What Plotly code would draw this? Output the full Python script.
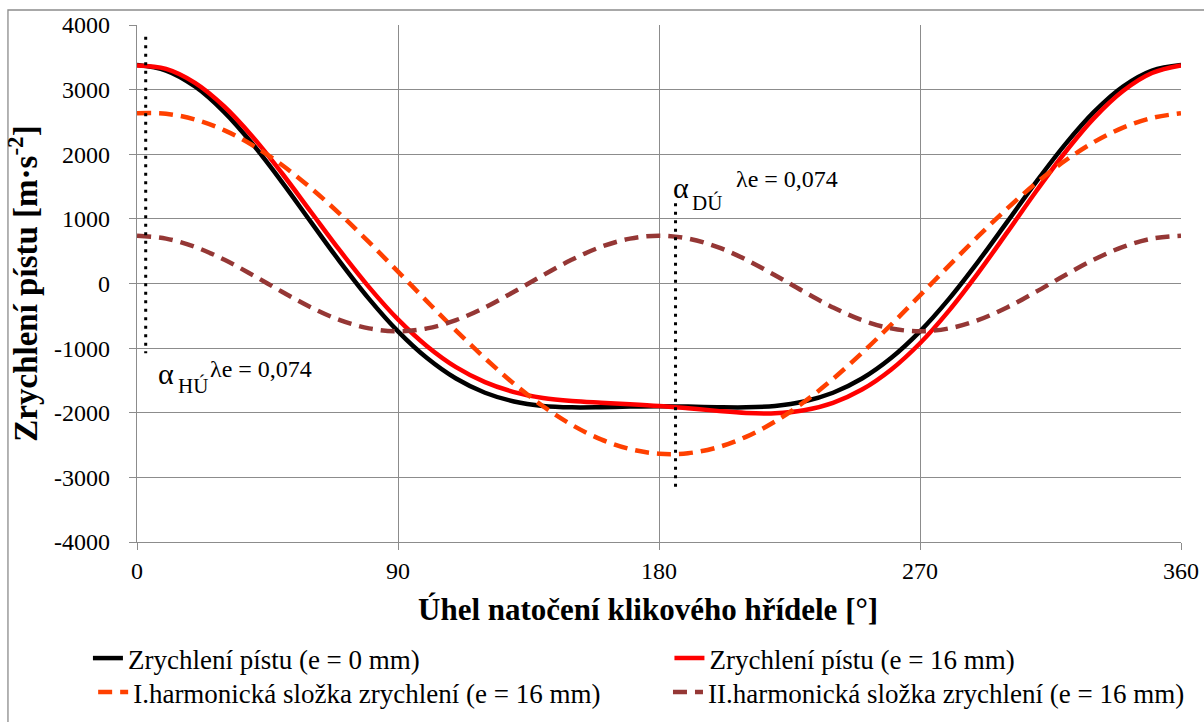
import plotly.graph_objects as go

# ---- data ----
angle_deg = [0, 10, 20, 30, 40, 50, 60, 70, 80, 90, 100, 110, 120, 130, 140, 150, 160, 170, 180,
             190, 200, 210, 220, 230, 240, 250, 260, 270, 280, 290, 300, 310, 320, 330, 340, 350, 360]

acc_e0 = [3380, 3295, 3048, 2656, 2150, 1569, 950, 336, -237, -740, -1153, -1470, -1690, -1825,
          -1894, -1916, -1914, -1905, -1900, -1905, -1914, -1916, -1894, -1825, -1690, -1470,
          -1153, -740, -237, 336, 950, 1569, 2150, 2656, 3048, 3295, 3380]

acc_e16 = [3374, 3321, 3105, 2743, 2264, 1706, 1106, 507, -56, -556, -971, -1295, -1527, -1680,
           -1771, -1819, -1845, -1867, -1894, -1931, -1971, -2003, -2008, -1962, -1846, -1641,
           -1334, -924, -419, 161, 787, 1424, 2027, 2559, 2979, 3257, 3374]

harm1_e16 = [2634, 2626, 2538, 2373, 2136, 1834, 1476, 1074, 639, 184, -276, -728, -1157, -1552,
             -1899, -2189, -2412, -2562, -2634, -2626, -2538, -2373, -2136, -1834, -1476, -1074,
             -639, -184, 276, 728, 1157, 1552, 1899, 2189, 2412, 2562, 2634]

harm2_e16 = [740, 695, 567, 370, 128, -128, -370, -567, -695, -740, -695, -567, -370, -128, 128,
             370, 567, 695, 740, 695, 567, 370, 128, -128, -370, -567, -695, -740, -695, -567,
             -370, -128, 128, 370, 567, 695, 740]

series_names = ["Zrychlení pístu (e = 0 mm)",
                "Zrychlení pístu (e = 16 mm)",
                "I.harmonická složka zrychlení (e = 16 mm)",
                "II.harmonická složka zrychlení (e = 16 mm)"]

# dead-centre marker lines
hu_x = [3.0, 3.0]
hu_y = [3820, -1080]
du_x = [185.7, 185.7]
du_y = [1240, -3150]

x_ticks = [0, 90, 180, 270, 360]
x_ticktext = ["0", "90", "180", "270", "360"]
y_ticks = [-4000, -3000, -2000, -1000, 0, 1000, 2000, 3000, 4000]
y_ticktext = ["-4000", "-3000", "-2000", "-1000", "0", "1000", "2000", "3000", "4000"]

x_title = "Úhel natočení klikového hřídele [°]"
y_title = "Zrychlení pístu [m·s<sup>-2</sup>]"

# ---- figure ----
FONT = "Liberation Serif, Times New Roman, serif"
GRID = "#8c8c8c"

fig = go.Figure()
fig.add_trace(go.Scatter(x=angle_deg, y=acc_e0, mode="lines", name=series_names[0],
                         line=dict(color="#000000", width=4.5, shape="spline"), legend="legend"))
fig.add_trace(go.Scatter(x=angle_deg, y=acc_e16, mode="lines", name=series_names[1],
                         line=dict(color="#ff0000", width=4.5, shape="spline"), legend="legend2"))
fig.add_trace(go.Scatter(x=angle_deg, y=harm1_e16, mode="lines", name=series_names[2],
                         line=dict(color="#ff4000", width=4.5, shape="spline", dash="14px,8px"),
                         legend="legend3"))
fig.add_trace(go.Scatter(x=angle_deg, y=harm2_e16, mode="lines", name=series_names[3],
                         line=dict(color="#953735", width=4.5, shape="spline", dash="14px,8px"),
                         legend="legend4"))
fig.add_trace(go.Scatter(x=hu_x, y=hu_y, mode="lines", showlegend=False, hoverinfo="skip",
                         line=dict(color="#000000", width=3, dash="3px,5.5px")))
fig.add_trace(go.Scatter(x=du_x, y=du_y, mode="lines", showlegend=False, hoverinfo="skip",
                         line=dict(color="#000000", width=3, dash="3px,5.5px")))

axis_common = dict(showgrid=True, gridcolor=GRID, gridwidth=1.3, showline=True, linecolor=GRID,
                   linewidth=1.3, ticks="outside", ticklen=7, tickcolor=GRID, tickwidth=1.3,
                   zeroline=False, automargin=False,
                   tickfont=dict(family=FONT, size=24, color="black"))

fig.update_xaxes(range=[0, 360], tickmode="array", tickvals=x_ticks, ticktext=x_ticktext,
                 ticklabelstandoff=0, **axis_common)
fig.update_yaxes(range=[-4000, 4000], tickmode="array", tickvals=y_ticks, ticktext=y_ticktext,
                 ticklabelstandoff=14,
                 title=dict(text="<b>" + y_title + "</b>", standoff=6,
                            font=dict(family=FONT, size=33, color="black")),
                 **axis_common)

legend_common = dict(orientation="v", xanchor="left", yanchor="top", bgcolor="rgba(0,0,0,0)",
                     font=dict(family=FONT, size=27, color="black"), tracegroupgap=0,
                     itemwidth=30)
fig.update_layout(
    width=1204, height=722,
    margin=dict(l=137, r=23, t=25, b=180, autoexpand=False),
    plot_bgcolor="white", paper_bgcolor="white",
    font=dict(family=FONT, color="black"),
    showlegend=True,
    legend=dict(x=-0.047, y=-0.178, **legend_common),
    legend2=dict(x=0.510, y=-0.178, **legend_common),
    legend3=dict(x=-0.042, y=-0.2437, **legend_common),
    legend4=dict(x=0.5086, y=-0.2437, **legend_common),
)

# x-axis title
fig.add_annotation(x=(648 - 137) / 1044, y=-0.1315, xref="paper", yref="paper",
                   text="<b>" + x_title + "</b>", showarrow=False, xanchor="center",
                   yanchor="middle", font=dict(family=FONT, size=31, color="black"))

# outer chart border
fig.add_shape(type="rect", xref="paper", yref="paper", x0=-0.1236, x1=1.03, y0=-0.37, y1=1.029,
              line=dict(color=GRID, width=1.3), fillcolor="rgba(0,0,0,0)", layer="below")

# annotations (alpha symbols with sub/superscripts)
ann_font = dict(family=FONT, color="black")
fig.add_annotation(x=184.3, y=1490, xref="x", yref="y", text="α", showarrow=False,
                   xanchor="left", yanchor="middle", font=dict(size=30, **ann_font))
fig.add_annotation(x=190.8, y=1250, xref="x", yref="y", text="DÚ", showarrow=False,
                   xanchor="left", yanchor="middle", font=dict(size=21, **ann_font))
fig.add_annotation(x=206.0, y=1613, xref="x", yref="y", text="λe = 0,074", showarrow=False,
                   xanchor="left", yanchor="middle", font=dict(size=24, **ann_font))

fig.add_annotation(x=6.5, y=-1390, xref="x", yref="y", text="α", showarrow=False,
                   xanchor="left", yanchor="middle", font=dict(size=30, **ann_font))
fig.add_annotation(x=13.3, y=-1590, xref="x", yref="y", text="HÚ", showarrow=False,
                   xanchor="left", yanchor="middle", font=dict(size=21, **ann_font))
fig.add_annotation(x=24.6, y=-1326, xref="x", yref="y", text="λe = 0,074", showarrow=False,
                   xanchor="left", yanchor="middle", font=dict(size=24, **ann_font))

fig.write_html("out.html")
